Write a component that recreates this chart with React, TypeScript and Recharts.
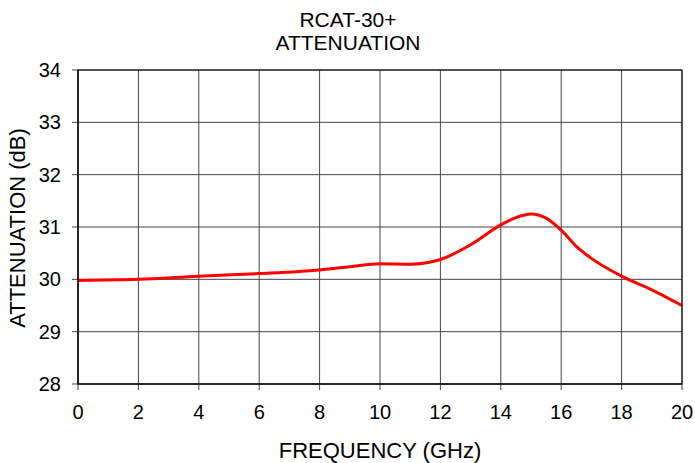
import React from 'react';
import { LineChart, Line, XAxis, YAxis, CartesianGrid } from 'recharts';

const frequency = [0, 2, 4, 6, 8, 9, 10, 11, 12, 13, 14, 14.5, 15, 15.5, 16, 16.5, 17, 18, 19, 20];
const attenuation = [29.98, 30.0, 30.06, 30.11, 30.18, 30.24, 30.3, 30.29, 30.38, 30.66, 31.04, 31.18, 31.25, 31.17, 30.94, 30.63, 30.4, 30.06, 29.8, 29.5];
const xTicks = [0, 2, 4, 6, 8, 10, 12, 14, 16, 18, 20];
const yTicks = [28, 29, 30, 31, 32, 33, 34];
const titleLines = ['RCAT-30+', 'ATTENUATION'];
const xLabel = 'FREQUENCY (GHz)';
const yLabel = 'ATTENUATION (dB)';

const data = frequency.map((f, i) => ({ f, a: attenuation[i] }));

const font = '"Liberation Sans", Arial, sans-serif';

export default function App() {
  return (
    <div style={{ position: 'absolute', left: 0, top: 0, width: 695, height: 463, background: '#fff', fontFamily: font }}>
      <LineChart width={695} height={463} data={data} margin={{ top: 70, right: 13, bottom: 39, left: 30 }}>
        <CartesianGrid stroke="#444" strokeWidth={1} vertical horizontal />
        <XAxis
          dataKey="f"
          type="number"
          domain={[0, 20]}
          ticks={xTicks}
          interval={0}
          axisLine={{ stroke: '#000' }}
          tickLine={{ stroke: '#444' }}
          tickSize={6}
          tickMargin={15}
          tick={{ fill: '#000', fontSize: 20, fontFamily: font }}
          height={40}
        />
        <YAxis
          type="number"
          domain={[28, 34]}
          ticks={yTicks}
          interval={0}
          width={48}
          axisLine={{ stroke: '#000' }}
          tickLine={{ stroke: '#444' }}
          tickSize={6}
          tickMargin={11}
          tick={{ fill: '#000', fontSize: 20, fontFamily: font }}
        />
        <Line
          dataKey="a"
          type="monotone"
          stroke="#ff0000"
          strokeWidth={3}
          dot={false}
          isAnimationActive={false}
        />
      </LineChart>
      <svg width={695} height={463} style={{ position: 'absolute', left: 0, top: 0, pointerEvents: 'none' }}>
        <rect x={78} y={70} width={604} height={314} fill="none" stroke="#000" strokeWidth={1} />
        <text x={348} y={27} textAnchor="middle" fontSize={21} fontFamily={font} fill="#000">{titleLines[0]}</text>
        <text x={348} y={50} textAnchor="middle" fontSize={21} fontFamily={font} fill="#000">{titleLines[1]}</text>
        <text x={380} y={458} textAnchor="middle" fontSize={22} fontFamily={font} fill="#000">{xLabel}</text>
        <text x={25} y={228} textAnchor="middle" fontSize={22} fontFamily={font} fill="#000" transform="rotate(-90 25 228)">{yLabel}</text>
      </svg>
    </div>
  );
}
